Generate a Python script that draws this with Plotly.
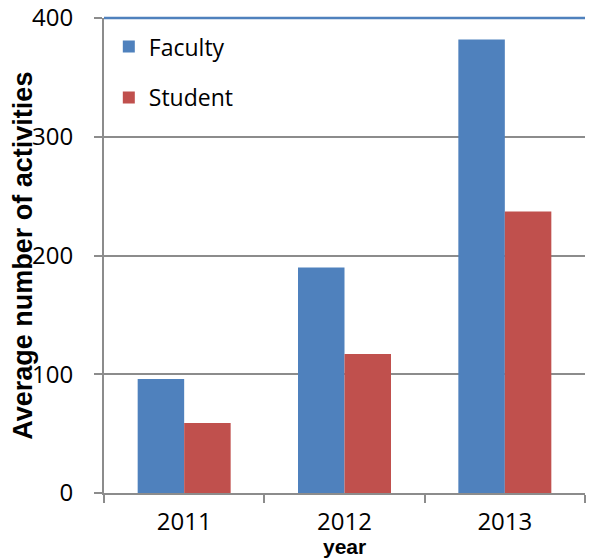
import plotly.graph_objects as go

years = ["2011", "2012", "2013"]
faculty = [96, 190, 382]
student = [59, 117, 237]
y_ticks = [0, 100, 200, 300, 400]

fig = go.Figure()
fig.add_trace(go.Bar(x=years, y=faculty, name="Faculty", legendgroup="f",
                     marker=dict(color="#4F81BD", line=dict(width=0))))
fig.add_trace(go.Bar(x=years, y=student, name="Student", legendgroup="s",
                     marker=dict(color="#C0504D", line=dict(width=0))))

font_family = "Open Sans, Liberation Sans, sans-serif"
bold_family = "Liberation Sans, Arial, sans-serif"
fig.update_layout(
    width=590, height=558,
    margin=dict(l=104, r=5, t=18, b=65, autoexpand=False),
    paper_bgcolor="white", plot_bgcolor="white",
    barmode="group", bargap=0.42, bargroupgap=0,
    font=dict(family=font_family, size=23, color="black"),
    showlegend=True,
    legend=dict(x=0.01, y=0.985, xanchor="left", yanchor="top",
                bgcolor="rgba(0,0,0,0)", traceorder="grouped",
                tracegroupgap=18, font=dict(size=23)),
    xaxis=dict(
        showgrid=False, showline=True, linecolor="#8C8C8C", linewidth=2,
        ticks="outside", tickson="boundaries", ticklen=8, tickcolor="#8C8C8C",
        tickwidth=2, tickfont=dict(size=24), automargin=False,
        ticklabelstandoff=6,
    ),
    yaxis=dict(
        range=[0, 400], tickvals=y_ticks, showgrid=True, gridcolor="#8C8C8C",
        gridwidth=1.5, showline=True, linecolor="#8C8C8C", linewidth=2,
        ticks="outside", ticklen=8, tickcolor="#8C8C8C", tickwidth=2,
        tickfont=dict(size=24), zeroline=False, automargin=False,
        ticklabelstandoff=16,
    ),
    annotations=[
        dict(text="<b>year</b>", xref="paper", yref="paper", x=0.5, y=-0.112,
             xanchor="center", yanchor="middle", showarrow=False,
             font=dict(size=21, family=bold_family)),
        dict(text="<b>Average number of activities</b>", xref="paper", yref="paper",
             x=-0.170, y=0.5, xanchor="center", yanchor="middle", textangle=-90,
             showarrow=False, font=dict(size=27, family=bold_family)),
    ],
)
fig.add_shape(type="line", xref="paper", yref="paper", x0=0, x1=1, y0=1, y1=1,
              line=dict(color="#4F81BD", width=2.5))
fig.write_html("out.html", config={"displayModeBar": False},
               post_script="document.body.style.margin='0';")
